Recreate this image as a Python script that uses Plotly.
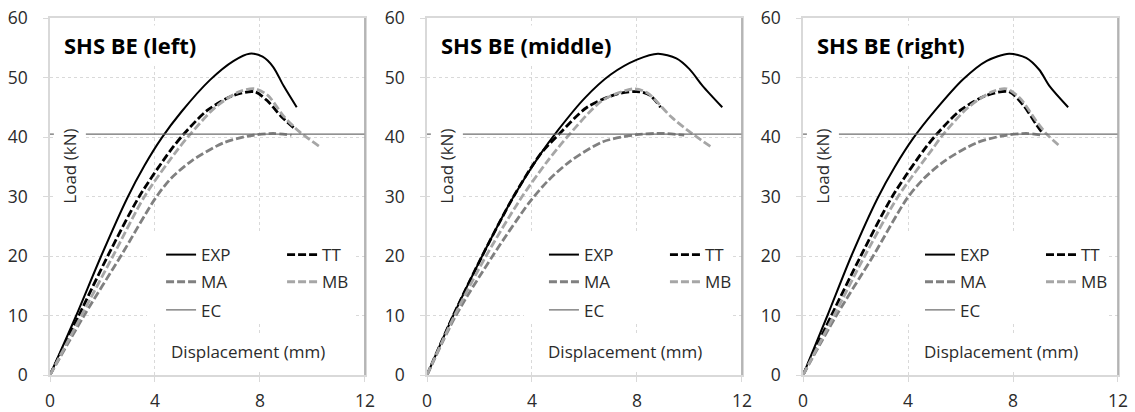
import plotly.graph_objects as go

# ---------------- data ----------------
panel_titles = ["SHS BE (left)", "SHS BE (middle)", "SHS BE (right)"]
series_names = ["EXP", "TT", "MA", "MB", "EC"]
x_ticks = [0, 4, 8, 12]
y_ticks = [0, 10, 20, 30, 40, 50, 60]

# left
exp_left_x = [0, 1.0, 1.95, 2.95, 3.6, 4.25, 5.0, 6.1, 7.0, 7.6, 8.1, 8.5, 8.9, 9.4]
exp_left_y = [0, 10, 20, 29.8, 35.2, 39.8, 44.2, 49.6, 52.8, 54.0, 53.5, 51.8, 48.6, 45.0]
tt_left_x = [0, 1.1, 2.2, 3.4, 4.6, 5.1, 6.0, 7.0, 7.8, 8.3, 8.8, 9.3]
tt_left_y = [0, 10, 20, 30, 37.8, 40.5, 44.5, 47.0, 47.6, 46.0, 43.5, 41.5]
ma_left_x = [0, 1.3, 2.7, 4.0, 4.6, 5.4, 6.6, 7.6, 8.5, 9.2]
ma_left_y = [0, 10, 20, 29.6, 33.0, 36.0, 39.0, 40.2, 40.6, 40.3]
mb_left_x = [0, 1.2, 2.4, 3.6, 4.85, 5.35, 6.3, 7.2, 7.8, 8.3, 8.9, 9.5, 10.3]
mb_left_y = [0, 10, 20, 30, 37.8, 40.5, 45.0, 47.6, 48.1, 47.0, 43.5, 40.9, 38.3]

# middle
exp_mid_x = [0, 1.0, 2.1, 3.3, 4.3, 5.0, 6.0, 7.0, 8.0, 8.8, 9.5, 10.0, 10.5, 11.25]
exp_mid_y = [0, 10, 20, 30, 37.0, 41.2, 46.5, 50.5, 53.0, 54.0, 53.2, 51.4, 48.6, 45.0]
tt_mid_x = [0, 1.0, 2.1, 3.3, 4.3, 5.1, 6.1, 7.3, 8.1, 8.5, 8.9]
tt_mid_y = [0, 10, 20, 30, 37.0, 40.8, 45.0, 47.3, 47.6, 47.0, 45.0]
ma_mid_x = [0, 1.1, 2.5, 3.9, 4.6, 5.45, 6.7, 8.0, 9.0, 9.8]
ma_mid_y = [0, 10, 20, 29.0, 32.6, 35.9, 39.2, 40.4, 40.6, 40.3]
mb_mid_x = [0, 1.05, 2.25, 3.55, 4.6, 5.4, 6.7, 7.9, 8.4, 9.3, 10.0, 10.8]
mb_mid_y = [0, 10, 20, 29.5, 36.0, 40.3, 46.2, 48.1, 47.4, 43.4, 40.9, 38.4]

# right
exp_right_x = [0, 0.93, 1.84, 2.85, 3.5, 4.2, 5.0, 6.1, 7.0, 7.85, 8.5, 9.0, 9.4, 10.1]
exp_right_y = [0, 10, 20, 29.8, 35.0, 39.8, 44.3, 49.7, 52.8, 54.0, 53.3, 51.3, 48.5, 45.0]
tt_right_x = [0, 1.08, 2.2, 3.4, 4.6, 5.1, 6.0, 7.0, 7.85, 8.4, 8.9, 9.1]
tt_right_y = [0, 10, 20, 30, 37.8, 40.5, 44.5, 47.0, 47.6, 45.3, 42.0, 40.8]
ma_right_x = [0, 1.27, 2.67, 3.95, 4.6, 5.4, 6.6, 7.6, 8.5, 9.1]
ma_right_y = [0, 10, 20, 29.6, 33.0, 36.0, 39.0, 40.2, 40.6, 40.3]
mb_right_x = [0, 1.18, 2.35, 3.62, 4.9, 5.35, 6.3, 7.2, 7.75, 8.25, 8.9, 9.3, 9.8]
mb_right_y = [0, 10, 20, 30, 37.8, 40.5, 45.0, 47.6, 48.1, 46.6, 42.6, 40.4, 38.4]

ec_load = 40.5
ec_x = [0, 12]

panels_data = [
    [(exp_left_x, exp_left_y), (tt_left_x, tt_left_y), (ma_left_x, ma_left_y), (mb_left_x, mb_left_y)],
    [(exp_mid_x, exp_mid_y), (tt_mid_x, tt_mid_y), (ma_mid_x, ma_mid_y), (mb_mid_x, mb_mid_y)],
    [(exp_right_x, exp_right_y), (tt_right_x, tt_right_y), (ma_right_x, ma_right_y), (mb_right_x, mb_right_y)],
]

# ---------------- styling ----------------
FONT = "Open Sans"
TXT = "#2b2b2b"
styles = {
    "EXP": dict(color="#000000", width=2, dash="solid"),
    "TT": dict(color="#000000", width=2.8, dash="8px,3px"),
    "MA": dict(color="#808080", width=2.8, dash="8px,3px"),
    "MB": dict(color="#a6a6a6", width=2.8, dash="8px,3px"),
    "EC": dict(color="#6e6e6e", width=1.2, dash="solid"),
}
row_of = {"EXP": 0, "TT": 0, "MA": 1, "MB": 1, "EC": 2}

domains = [[0.0, 0.2949], [0.3530, 0.6479], [0.7051, 1.0]]
legend_x = [0.1040, 0.4625, 0.8146]
legend_rows_y = [0.336, 0.260, 0.181]

fig = go.Figure()
layout = {}
annotations = []
shapes = []

for p in range(3):
    sfx = "" if p == 0 else str(p + 1)
    xa, ya = "x" + sfx, "y" + sfx
    series = panels_data[p] + [(ec_x, [ec_load] * len(ec_x))]
    for name, (xs, ys) in zip(series_names, series):
        n = p * 3 + row_of[name] + 1
        lg = "legend" if n == 1 else f"legend{n}"
        st = styles[name]
        fig.add_trace(go.Scatter(
            x=xs, y=ys, mode="lines", name=name, xaxis=xa, yaxis=ya,
            legend=lg,
            line=dict(color=st["color"], width=st["width"], dash=st["dash"],
                      shape="spline" if name != "EC" else "linear", smoothing=0.8),
            hoverinfo="skip",
        ))
    for r in range(3):
        n = p * 3 + r + 1
        lg = "legend" if n == 1 else f"legend{n}"
        layout[lg] = dict(
            x=legend_x[p], y=legend_rows_y[r], xanchor="left", yanchor="middle",
            xref="paper", yref="paper",
            orientation="h", entrywidth=76, entrywidthmode="pixels",
            bgcolor="rgba(0,0,0,0)", borderwidth=0,
            font=dict(family=FONT, size=17, color=TXT),
            itemwidth=30, tracegroupgap=0, traceorder="normal",
        )
    axis_common = dict(
        showline=True, linecolor="#d9d9d9", linewidth=1.5, mirror=True,
        ticks="outside", ticklen=5, tickcolor="#d9d9d9", tickwidth=1,
        showgrid=True, gridcolor="#d9d9d9", griddash="dot", gridwidth=1,
        zeroline=False, tickfont=dict(family=FONT, size=17.5, color=TXT),
        automargin=False,
    )
    layout["xaxis" + sfx] = dict(axis_common, domain=domains[p], anchor=ya,
                                  range=[0, 12], tickvals=x_ticks, ticklabelstandoff=4)
    layout["yaxis" + sfx] = dict(axis_common, domain=[0, 1], anchor=xa,
                                  range=[0, 60], tickvals=y_ticks, ticklabelstandoff=12)
    xd, yd = xa + " domain", ya + " domain"
    # white box behind the legend (hides gridlines, as in the reference)
    shapes.append(dict(type="rect", xref=xd, yref=yd, x0=0.308, x1=0.962, y0=0.146, y1=0.398,
                       fillcolor="white", line=dict(width=0), layer="above"))
    # darker right border of the plot area
    shapes.append(dict(type="line", xref=xd, yref=yd, x0=1, x1=1, y0=0, y1=1,
                       line=dict(color="#a6a6a6", width=1.5), layer="above"))
    annotations.append(dict(text=panel_titles[p], xref=xd, yref=yd, x=0.03, y=0.924,
                            xanchor="left", yanchor="middle", showarrow=False,
                            font=dict(family=FONT, size=22, color="#000000", weight="bold"),
                            bgcolor="white", borderpad=4))
    annotations.append(dict(text="Load (kN)", xref=xd, yref=yd, x=0.062, y=0.585,
                            xanchor="center", yanchor="middle", showarrow=False, textangle=-90,
                            font=dict(family=FONT, size=17, color=TXT),
                            bgcolor="white", borderpad=4))
    annotations.append(dict(text="Displacement (mm)", xref=xd, yref=yd, x=0.63, y=0.067,
                            xanchor="center", yanchor="middle", showarrow=False,
                            font=dict(family=FONT, size=17, color=TXT),
                            bgcolor="white", borderpad=6))

fig.update_layout(
    width=1135, height=412,
    margin=dict(l=50, r=17, t=18, b=37, autoexpand=False),
    paper_bgcolor="white", plot_bgcolor="white",
    font=dict(family=FONT, size=17, color=TXT),
    showlegend=True,
    annotations=annotations, shapes=shapes,
    **layout,
)

# remove the browser's default 8px body margin so the figure fills the window exactly
fig.write_html("out.html", config={"displayModeBar": False},
               post_script="document.body.style.margin='0px';")
